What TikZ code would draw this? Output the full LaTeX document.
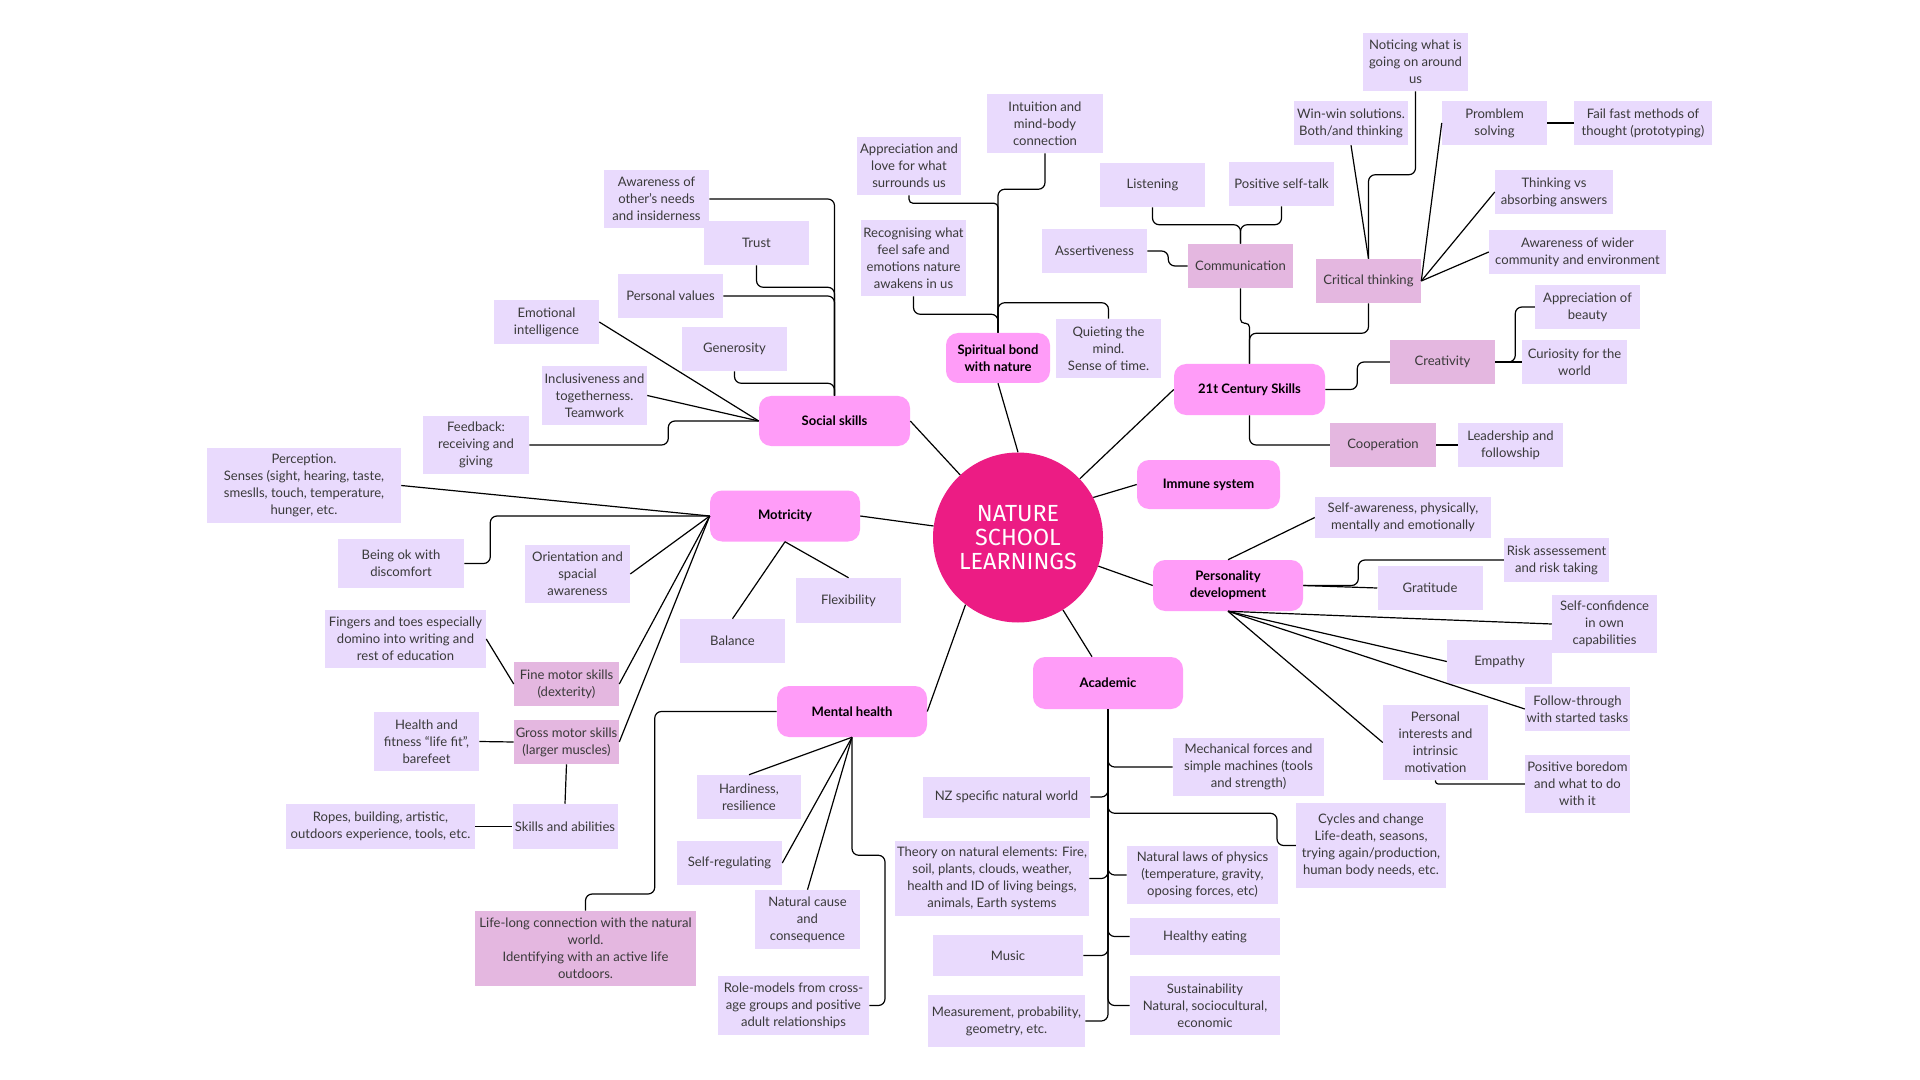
\documentclass[tikz,border=0pt]{standalone}
\usepackage{fontspec}
\setmainfont{Lato}
\newfontfamily\hubfont{Fira Sans}
\usetikzlibrary{calc}
\definecolor{CLeaf}{HTML}{E9DAFD}
\definecolor{CMid}{HTML}{E4B7E0}
\definecolor{CPink}{HTML}{FF9CF8}
\definecolor{CHub}{HTML}{EC1C84}
\definecolor{CText}{HTML}{3A3A3A}

\begin{document}
\begin{tikzpicture}[x=0.75pt, y=-0.75pt,
    leaf/.style={fill=CLeaf, text=CText, align=center, inner sep=0pt,
        font=\fontsize{9.8}{12.75}\selectfont, minimum width=78.75pt, minimum height=33pt},
    mid/.style={leaf, fill=CMid},
    branch/.style={fill=CPink, rounded corners=9pt, align=center, inner sep=0pt,
        font=\fontsize{9.8}{12.75}\selectfont\bfseries, minimum width=112.5pt, minimum height=38.25pt},
    bw/.style={minimum width=#1*0.75pt},
    bh/.style={minimum height=#1*0.75pt},
    link/.style={draw=black, line width=0.9pt, rounded corners=5pt}]

    % Page
    \fill[white] (0,0) rectangle (1920,1080);
    \useasboundingbox (0,0) rectangle (1920,1080);

    % Hub
    \node[circle, fill=CHub, minimum size=127.5pt, inner sep=0pt, text=white, align=center,
        font=\hubfont\fontsize{17.5}{18.2}\selectfont] (hub) at (1018,537.5) {NATURE\\SCHOOL\\LEARNINGS};

    % Branches
    \node[branch, bw=151, bh=50] (social) at (834.5,421) {Social skills};
    \node[branch, bw=104, bh=50] (spirit) at (998,358) {Spiritual bond\\with nature};
    \node[branch, bw=151] (cent) at (1249.5,389.5) {21t Century Skills};
    \node[branch, bw=143, bh=49] (immune) at (1208.5,484.5) {Immune system};
    \node[branch] (pers) at (1228,585.5) {Personality\\development};
    \node[branch, bh=52] (acad) at (1108,683) {Academic};
    \node[branch] (mental) at (852,711.5) {Mental health};
    \node[branch] (mot) at (785,516) {Motricity};

    % Social skills
    \node[leaf, bh=58] (aware) at (656.5,199) {Awareness of\\other’s needs\\and insiderness};
    \node[leaf] (trust) at (756.5,243) {Trust};
    \node[leaf] (values) at (670.5,296) {Personal values};
    \node[leaf] (emo) at (546.5,322) {Emotional\\intelligence};
    \node[leaf] (gener) at (734.5,349) {Generosity};
    \node[leaf, bh=59] (incl) at (594.5,395.5) {Inclusiveness and\\togetherness.\\Teamwork};
    \node[leaf, bw=106, bh=58] (feedb) at (476,445) {Feedback:\\receiving and\\giving};

    % Spiritual bond
    \node[leaf, bw=104, bh=58] (apprec) at (909,166) {Appreciation and\\love for what\\surrounds us};
    \node[leaf, bw=116, bh=59] (intuit) at (1045,123.5) {Intuition and\\mind-body\\connection};
    \node[leaf, bh=76] (recog) at (913.5,258) {Recognising what\\feel safe and\\emotions nature\\awakens in us};
    \node[leaf, bh=59] (quiet) at (1108.5,348.5) {Quieting the\\mind.\\Sense of time.};

    % 21t Century Skills
    \node[leaf] (listen) at (1152.5,185) {Listening};
    \node[leaf] (selftalk) at (1281.5,184) {Positive self-talk};
    \node[leaf] (assert) at (1094.5,251) {Assertiveness};
    \node[mid] (comm) at (1240.5,266) {Communication};
    \node[leaf, bh=58] (notice) at (1415.5,62) {Noticing what is\\going on around\\us};
    \node[leaf, bw=114] (winwin) at (1351,123) {Win-win solutions.\\Both/and thinking};
    \node[leaf] (problem) at (1494.5,123) {Promblem\\solving};
    \node[leaf, bw=138] (failfast) at (1643,123) {Fail fast methods of\\thought (prototyping)};
    \node[leaf, bw=118] (thinkvs) at (1554,192) {Thinking vs\\absorbing answers};
    \node[leaf, bw=177] (wider) at (1577.5,252) {Awareness of wider\\community and environment};
    \node[mid] (critical) at (1368.5,281) {Critical thinking};
    \node[leaf] (beauty) at (1587.5,307) {Appreciation of\\beauty};
    \node[leaf] (curious) at (1574.5,362) {Curiosity for the\\world};
    \node[mid] (creat) at (1442.5,362) {Creativity};
    \node[mid, bw=106] (coop) at (1383,445) {Cooperation};
    \node[leaf] (leader) at (1510.5,445) {Leadership and\\followship};

    % Personality development
    \node[leaf, bw=176, bh=41] (selfaw) at (1403,517.5) {Self-awareness, physically,\\mentally and emotionally};
    \node[leaf] (risk) at (1556.5,560) {Risk assessement\\and risk taking};
    \node[leaf] (grat) at (1430,588) {Gratitude};
    \node[leaf, bh=58] (confid) at (1604.5,624) {Self-confidence\\in own\\capabilities};
    \node[leaf] (empathy) at (1499.5,661.5) {Empathy};
    \node[leaf] (follow) at (1577.5,709) {Follow-through\\with started tasks};
    \node[leaf, bh=75] (interest) at (1435.5,742.5) {Personal\\interests and\\intrinsic\\motivation};
    \node[leaf, bh=58] (boredom) at (1577.5,784) {Positive boredom\\and what to do\\with it};

    % Academic
    \node[leaf, bw=151, bh=58] (mech) at (1248.5,767) {Mechanical forces and\\simple machines (tools\\and strength)};
    \node[leaf, bw=167, bh=41] (nzworld) at (1006.5,797) {NZ specific natural world};
    \node[leaf, bw=150, bh=85] (cycles) at (1371,845.5) {Cycles and change\\Life-death, seasons,\\trying again/production,\\human body needs, etc.};
    \node[leaf, bw=194, bh=75] (theory) at (992,878.5) {Theory on natural elements: Fire,\\soil, plants, clouds, weather,\\health and ID of living beings,\\animals, Earth systems};
    \node[leaf, bw=151, bh=58] (physics) at (1202.5,875) {Natural laws of physics\\(temperature, gravity,\\oposing forces, etc)};
    \node[leaf, bw=150, bh=37] (eating) at (1205,936.5) {Healthy eating};
    \node[leaf, bw=150, bh=41] (music) at (1008,955.5) {Music};
    \node[leaf, bw=150, bh=59] (sustain) at (1205,1005.5) {Sustainability\\Natural, sociocultural,\\economic};
    \node[leaf, bw=157, bh=52] (measure) at (1006.5,1021) {Measurement, probability,\\geometry, etc.};

    % Mental health
    \node[leaf, bw=104] (hardy) at (749,797) {Hardiness,\\resilience};
    \node[leaf] (selfreg) at (729.5,863) {Self-regulating};
    \node[leaf, bh=59] (cause) at (807.5,919.5) {Natural cause\\and\\consequence};
    \node[mid, bw=221, bh=75] (lifelong) at (585.5,948.5) {Life-long connection with the natural\\world.\\Identifying with an active life\\outdoors.};
    \node[leaf, bw=151, bh=59] (rolemod) at (793.5,1005.5) {Role-models from cross-\\age groups and positive\\adult relationships};

    % Motricity
    \node[leaf, bw=194, bh=75] (percep) at (304,485.5) {Perception.\\Senses (sight, hearing, taste,\\smeslls, touch, temperature,\\hunger, etc.};
    \node[leaf, bw=126, bh=49] (discomf) at (401,563.5) {Being ok with\\discomfort};
    \node[leaf, bh=58] (orient) at (577.5,574) {Orientation and\\spacial\\awareness};
    \node[leaf, bh=45] (flex) at (848.5,600.5) {Flexibility};
    \node[leaf] (balance) at (732.5,641) {Balance};
    \node[leaf, bw=161, bh=58] (fingers) at (405.5,639) {Fingers and toes especially\\domino into writing and\\rest of education};
    \node[mid] (fine) at (566.5,684) {Fine motor skills\\(dexterity)};
    \node[mid] (gross) at (566.5,742) {Gross motor skills\\(larger muscles)};
    \node[leaf, bh=59] (health) at (426.5,741.5) {Health and\\fitness “life fit”,\\barefeet};
    \node[leaf, bh=45] (skills) at (565,826.5) {Skills and abilities};
    \node[leaf, bw=189, bh=45] (ropes) at (380.5,826.5) {Ropes, building, artistic,\\outdoors experience, tools, etc.};

    % Spokes to hub
    \draw[link] (social.east) -- (hub);
    \draw[link] (spirit.south) -- (hub.north);
    \draw[link] (cent.west) -- (hub);
    \draw[link] (immune.west) -- (hub.28);
    \draw[link] (pers.west) -- (hub);
    \draw[link] ($(acad.north)+(-16,0)$) -- (hub);
    \draw[link] (mental.east) -- (hub.232);
    \draw[link] (mot.east) -- (hub);

    % Social skills links
    \draw[link] (aware.east) -| (social.north);
    \draw[link] (trust.south) -- ++(0,22) -| (social.north);
    \draw[link] (values.east) -| (social.north);
    \draw[link] (gener.south) -- ++(0,12) -| (social.north);
    \draw[link] (emo.east) -- (social.west);
    \draw[link] (incl.east) -- (social.west);
    \draw[link] (feedb.east) -- ++(139,0) |- (social.west);

    % Spiritual bond links
    \draw[link] (intuit.south) -- ++(0,36) -| (spirit.north);
    \draw[link, rounded corners=3pt] (apprec.south) -- ++(0,8) -| (spirit.north);
    \draw[link] (recog.south) -- ++(0,18) -| (spirit.north);
    \draw[link] (quiet.north) -- ++(0,-16) -| (spirit.north);

    % 21t Century Skills links
    \draw[link] (comm.north) -- ++(0,-19) -| (listen.south);
    \draw[link] (comm.north) -- ++(0,-19) -| (selftalk.south);
    \draw[link] (assert.east) -- ++(21,0) |- (comm.west);
    \draw[link, rounded corners=3pt] (comm.south) -- ++(0,35) -| (cent.north);
    \draw[link] (critical.south) -- ++(0,30) -| (cent.north);
    \draw[link] (critical.north) -- (winwin.south);
    \draw[link] (critical.north) -- ++(0,-84) -| (notice.south);
    \draw[link] (critical.east) -- (problem.west);
    \draw[link] (critical.east) -- (thinkvs.west);
    \draw[link] (critical.east) -- (wider.west);
    \draw[link] (problem.east) -- (failfast.west);
    \draw[link] (cent.east) -- ++(32,0) |- (creat.west);
    \draw[link] (creat.east) -- (curious.west);
    \draw[link] (creat.east) -- ++(20,0) |- (beauty.west);
    \draw[link] (cent.south) |- (coop.west);
    \draw[link] (coop.east) -- (leader.west);

    % Personality links
    \draw[link] (pers.north) -- (selfaw.west);
    \draw[link] (pers.east) -- ++(55,0) |- (risk.west);
    \draw[link] (pers.east) -- (grat.west);
    \draw[link] (pers.south) -- (confid.west);
    \draw[link] (pers.south) -- (empathy.west);
    \draw[link] (pers.south) -- (follow.west);
    \draw[link] (pers.south) -- (interest.west);
    \draw[link, rounded corners=2pt] (interest.south) |- (boredom.west);

    % Academic links
    \draw[link] (acad.south) |- (mech.west);
    \draw[link] (acad.south) |- (nzworld.east);
    \draw[link] (acad.south) -- ++(0,104) -- ++(169,0) |- (cycles.west);
    \draw[link] (acad.south) |- (theory.east);
    \draw[link] (acad.south) |- (physics.west);
    \draw[link] (acad.south) |- (eating.west);
    \draw[link] (acad.south) |- (music.east);
    \draw[link] (acad.south) |- (sustain.west);
    \draw[link] (acad.south) |- (measure.east);

    % Mental health links
    \draw[link] (mental.south) -- (hardy.north);
    \draw[link] (mental.south) -- (selfreg.east);
    \draw[link] (mental.south) -- (cause.north);
    \draw[link] (mental.south) -- ++(0,118) -- ++(33,0) |- (rolemod.east);
    \draw[link] (mental.west) -- ++(-122,0) -- ++(0,182.5) -| (lifelong.north);

    % Motricity links
    \draw[link] (percep.east) -- (mot.west);
    \draw[link] (discomf.east) -- ++(26,0) |- (mot.west);
    \draw[link] (orient.east) -- (mot.west);
    \draw[link] (fine.east) -- (mot.west);
    \draw[link] (gross.east) -- (mot.west);
    \draw[link] (mot.south) -- (balance.north);
    \draw[link] (mot.south) -- (flex.north);
    \draw[link] (fingers.east) -- (fine.west);
    \draw[link] (health.east) -- (gross.west);
    \draw[link] (gross.south) -- (skills.north);
    \draw[link] (ropes.east) -- (skills.west);

\end{tikzpicture}
\end{document}
